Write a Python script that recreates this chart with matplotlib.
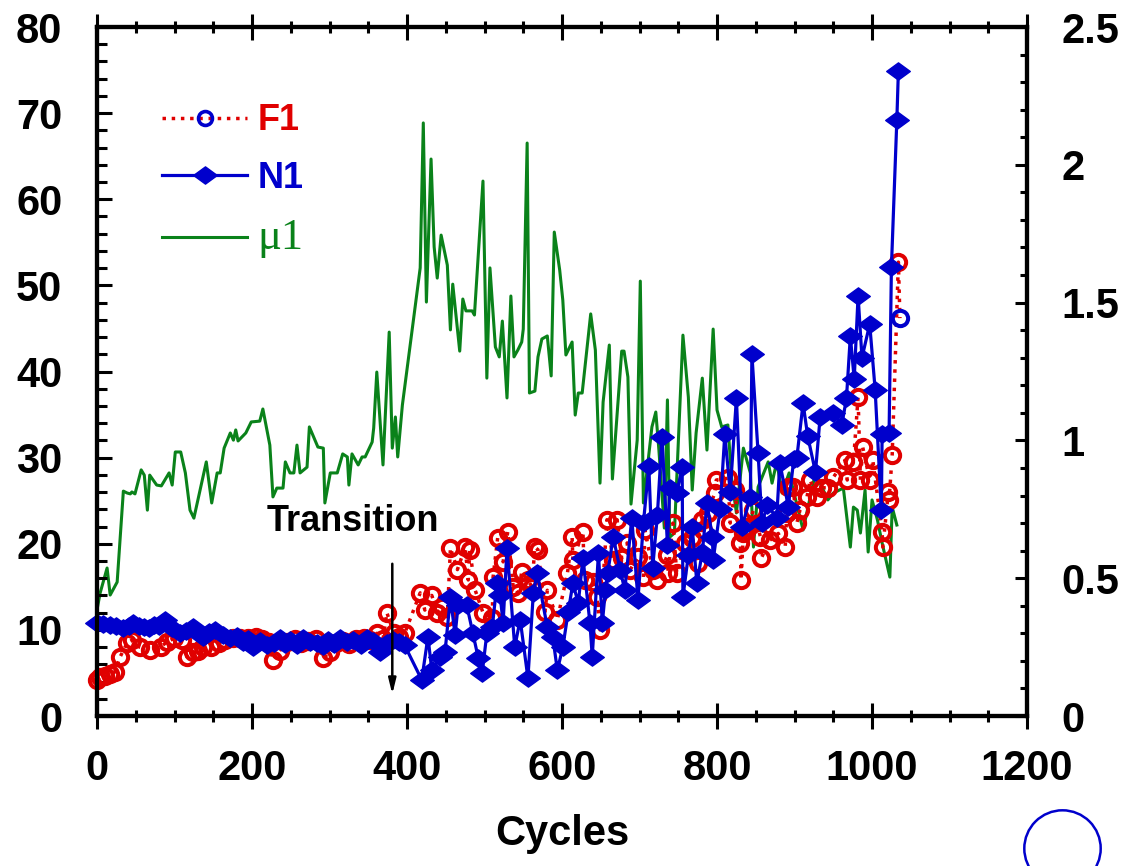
import matplotlib.pyplot as plt
from matplotlib.lines import Line2D
from matplotlib.path import Path
from matplotlib.ticker import MultipleLocator
import numpy as np

# --- data ---
f1_cycles = [0, 4, 10, 17, 23, 30, 39, 45, 55, 68,
             82, 90, 99, 110, 116, 124, 130, 137, 147, 157,
             165, 175, 185, 195, 205, 213, 222, 227, 236, 245,
             255, 263, 272, 283, 292, 300, 308, 317, 325, 334,
             344, 352, 361, 369, 374, 383, 390,
             397, 417, 423, 432, 439, 445, 452, 456, 465, 475,
             479, 481, 488, 498, 510, 511, 517, 524, 530, 537,
             543, 548, 556, 561, 565, 569, 578, 581, 594, 607,
             613, 614, 627, 629, 640, 645, 649, 658, 666, 671,
             677, 684, 688, 698, 705, 707, 717, 723, 736, 737,
             743, 748, 759, 768, 776, 781, 782, 788, 797, 799,
             814, 817, 823, 830, 831, 834, 839, 847, 856, 857,
             868, 879, 888, 890, 892, 898, 903, 907, 916, 920,
             929, 936, 943, 950, 965, 968, 976, 982, 985, 988,
             997, 1001, 1013, 1014, 1021, 1022, 1026, 1034, 1036]
f1_vals = [4.2, 4.5, 4.6, 4.9, 5.1, 6.9, 8.5, 8.8, 8.0, 7.7,
           8.0, 8.6, 9.0, 8.8, 6.9, 7.4, 7.5, 8.0, 8.0, 8.5,
           8.8, 9.0, 9.1, 9.0, 9.2, 8.9, 8.6, 6.5, 7.6, 8.6,
           8.9, 8.5, 8.7, 8.9, 6.7, 7.4, 8.5, 8.7, 8.4, 8.9,
           9.0, 8.8, 9.6, 8.9, 12.0, 9.6, 9.2,
           9.6, 14.3, 12.3, 14.0, 12.0, 12.7, 11.5, 19.5, 17.0, 19.6,
           15.8, 19.3, 14.6, 12.0, 11.4, 16.1, 20.7, 17.9, 21.4, 15.0,
           14.3, 16.7, 15.8, 15.0, 19.6, 19.3, 12.1, 14.6, 11.2, 16.6,
           20.8, 18.1, 21.4, 15.8, 15.6, 13.8, 10.0, 22.8, 18.1, 22.8,
           18.3, 20.1, 17.0, 18.5, 16.1, 21.6, 17.0, 15.8, 18.7, 16.6,
           22.4, 16.6, 20.1, 20.7, 17.8, 22.8, 21.6, 23.6, 25.9, 27.4,
           27.6, 22.4, 26.2, 20.1, 15.8, 21.2, 21.9, 23.9, 20.8, 18.3,
           20.4, 21.2, 19.6, 23.6, 26.6, 26.6, 22.4, 23.9, 25.4, 27.4,
           25.4, 26.5, 26.5, 27.7, 29.7, 27.4, 29.5, 37.0, 27.4, 31.2,
           27.4, 29.7, 21.4, 19.6, 26.0, 25.1, 30.3, 52.7, 46.2]

n1_cycles = [0, 8, 17, 25, 34, 41, 47, 54, 60, 67,
             73, 80, 88, 97, 107, 115, 124, 130, 137, 145,
             152, 162, 172, 180, 188, 195, 201, 210, 219, 228,
             236, 243, 249, 258, 266, 275, 284, 291, 298, 306,
             314, 322, 330, 340, 348, 356, 365, 374, 382, 390,
             397, 419, 427, 432, 443, 449, 456, 462, 466, 477,
             485, 492, 497, 503, 510, 516, 520, 524, 529, 539,
             546, 556, 563, 568, 581, 588, 594, 601, 608, 614,
             621, 627, 636, 639, 647, 652, 656, 659, 666, 675,
             681, 690, 698, 705, 712, 717, 723, 729, 736, 739,
             748, 755, 756, 763, 768, 774, 781, 787, 794, 795,
             804, 810, 817, 825, 832, 843, 845, 853, 858, 865,
             877, 881, 892, 899, 903, 911, 917, 927, 933, 950,
             961, 967, 972, 977, 982, 987, 997, 1004, 1012, 1013,
             1022, 1025, 1032, 1034]
n1_vals = [10.8, 10.7, 10.6, 10.4, 10.2, 10.5, 10.8, 10.4, 10.3, 10.2,
           10.6, 10.4, 11.1, 10.2, 9.6, 9.9, 10.3, 9.7, 9.2, 9.8,
           10.0, 9.4, 9.0, 9.3, 8.6, 8.9, 8.0, 8.7, 8.2, 8.5,
           9.0, 8.4, 8.8, 8.3, 9.0, 8.6, 8.5, 8.1, 8.8, 8.4,
           9.0, 8.6, 8.8, 8.3, 9.0, 8.7, 7.4, 8.5, 8.8, 8.6,
           8.2, 4.2, 9.2, 5.3, 6.9, 7.4, 13.8, 9.4, 12.9, 12.9,
           9.6, 6.7, 5.0, 9.6, 10.3, 15.4, 14.1, 10.8, 19.5, 8.0,
           11.2, 4.4, 14.3, 16.6, 10.3, 9.2, 5.3, 8.0, 12.1, 15.4,
           13.1, 18.4, 10.8, 6.9, 18.9, 10.8, 14.6, 16.6, 20.8, 17.0,
           14.6, 23.0, 13.5, 22.4, 29.0, 17.2, 23.3, 32.4, 19.9, 26.5,
           25.9, 28.9, 13.8, 18.7, 21.9, 15.4, 19.0, 24.7, 20.8, 18.1,
           24.0, 32.7, 26.0, 36.9, 21.9, 25.4, 42.0, 30.5, 22.4, 24.5,
           23.0, 29.4, 24.3, 29.8, 30.0, 36.3, 32.5, 28.3, 34.7, 35.2,
           33.8, 36.9, 44.1, 39.1, 48.8, 41.6, 45.5, 37.9, 23.9, 32.7,
           32.9, 52.1, 69.2, 74.9]

mu_cycles = [0, 4, 13, 17, 26, 34, 39, 43, 45, 49,
             57, 61, 65, 68, 77, 83, 93, 97, 101, 108,
             114, 120, 125, 133, 141, 148, 155, 159, 164, 172,
             176, 179, 182, 192, 199, 210, 214, 223, 227, 232,
             240, 243, 249, 254, 258, 262, 271, 274, 285, 292,
             294, 301, 310, 317, 323, 325, 329, 337, 342, 346,
             355, 357, 361, 369, 377, 381, 385, 388, 394, 417,
             421, 425, 431, 435, 439, 444, 452, 456, 459, 468,
             472, 476, 484, 487, 498, 503, 507, 514, 519, 523,
             529, 534, 538, 543, 548, 550, 555, 558, 565, 569,
             574, 581, 586, 590, 597, 601, 605, 613, 617, 621,
             626, 637, 643, 649, 653, 661, 665, 677, 680, 685,
             689, 697, 701, 705, 716, 721, 725, 732, 736, 739,
             745, 756, 763, 768, 773, 781, 787, 795, 800, 806,
             814, 819, 825, 834, 843, 847, 853, 866, 871, 877,
             884, 893, 911, 927, 943, 950, 963, 972, 976, 981,
             985, 991, 995, 1000, 1007, 1013, 1023, 1026, 1032]
mu_vals = [0.385, 0.446, 0.537, 0.439, 0.486, 0.816, 0.809, 0.806, 0.813, 0.806,
           0.893, 0.874, 0.747, 0.874, 0.838, 0.835, 0.882, 0.838, 0.958, 0.958,
           0.882, 0.747, 0.718, 0.820, 0.922, 0.773, 0.882, 0.882, 0.972, 1.027,
           1.001, 1.038, 0.998, 1.027, 1.067, 1.070, 1.114, 0.983, 0.795, 0.827,
           0.827, 0.922, 0.882, 0.882, 0.983, 0.882, 0.903, 1.049, 0.976, 0.972,
           0.773, 0.882, 0.882, 0.951, 0.940, 0.838, 0.951, 0.911, 0.940, 0.940,
           0.994, 1.045, 1.248, 0.911, 1.393, 0.972, 1.085, 0.940, 1.128, 1.626,
           2.152, 1.502, 2.021, 1.702, 1.589, 1.745, 1.636, 1.401, 1.567, 1.324,
           1.513, 1.470, 1.470, 1.455, 1.941, 1.226, 1.626, 1.339, 1.303, 1.433,
           1.154, 1.524, 1.303, 1.328, 1.357, 1.404, 2.079, 1.172, 1.179, 1.303,
           1.368, 1.379, 1.234, 1.756, 1.618, 1.509, 1.310, 1.357, 1.092, 1.172,
           1.172, 1.459, 1.328, 0.845, 1.139, 1.346, 0.860, 1.324, 1.324, 1.230,
           0.769, 1.001, 1.578, 0.773, 1.049, 1.103, 0.965, 0.682, 1.147, 0.649,
           0.664, 1.382, 1.157, 0.820, 1.027, 1.226, 0.965, 1.404, 1.110, 1.049,
           1.056, 0.856, 0.737, 0.972, 0.882, 0.613, 0.831, 0.922, 0.845, 0.922,
           0.809, 0.882, 0.675, 0.882, 0.784, 0.809, 0.827, 0.613, 0.758, 0.747,
           0.664, 0.820, 0.595, 0.784, 0.711, 0.628, 0.504, 0.758, 0.693]

RED = '#e00000'
BLUE = '#0000cc'
GREEN = '#0a821a'

plt.rcParams['font.family'] = 'Liberation Sans'
plt.rcParams['font.weight'] = 'bold'

fig = plt.figure(figsize=(11.28, 8.66), dpi=100)
ax = fig.add_axes([0.086, 0.1732, 0.8245, 0.7956])
ax2 = ax.twinx()
ax.set_zorder(ax2.get_zorder() + 1)
ax.patch.set_visible(False)

# wide diamond like the original marker
diamond = Path([(-1.3, 0), (0, 0.95), (1.3, 0), (0, -0.95), (-1.3, 0)], closed=True)

ax2.plot(mu_cycles, mu_vals, color=GREEN, lw=2.2, clip_on=False)

ax.plot(f1_cycles, f1_vals, ls=':', color=RED, lw=2.5, marker='o', ms=11,
        mfc='none', mec=RED, mew=2.9, markevery=list(range(len(f1_cycles) - 1)),
        clip_on=False)
ax.plot(f1_cycles[-1:], f1_vals[-1:], ls='none', marker='o', ms=11,
        mfc='none', mec=BLUE, mew=2.9, clip_on=False)
ax.plot(n1_cycles, n1_vals, '-', color=BLUE, lw=2.3, marker=diamond, ms=17,
        mfc=BLUE, mec=BLUE, clip_on=False)

ax.set_xlim(0, 1200)
ax.set_ylim(0, 80)
ax2.set_ylim(0, 2.5)

ax.xaxis.set_major_locator(MultipleLocator(200))
ax.xaxis.set_minor_locator(MultipleLocator(50))
ax.yaxis.set_major_locator(MultipleLocator(10))
ax.yaxis.set_minor_locator(MultipleLocator(2))
ax2.yaxis.set_minor_locator(MultipleLocator(0.1))
ax2.set_yticks([0, 0.5, 1, 1.5, 2, 2.5])
ax2.set_yticklabels(['0', '0.5', '1', '1.5', '2', '2.5'])

ax.tick_params(axis='x', which='major', direction='inout', length=19, width=2.2,
               top=True, labelsize=30, pad=14)
ax.tick_params(axis='x', which='minor', direction='inout', length=9, width=2.2, top=True)
ax.tick_params(axis='y', which='major', direction='in', length=11, width=2.2,
               labelsize=30, pad=25)
ax.tick_params(axis='y', which='minor', direction='in', length=7, width=2.2)
ax2.tick_params(axis='y', which='major', direction='in', length=9, width=2.2,
                labelsize=30, pad=25)
ax2.tick_params(axis='y', which='minor', direction='in', length=5, width=2.2)

for a in (ax, ax2):
    for s in a.spines.values():
        s.set_linewidth(3)

ax.set_xlabel('Cycles', fontsize=30, fontweight='bold', labelpad=18)

ax.text(330, 22.6, 'Transition', ha='center', va='center', fontsize=26)
ax.annotate('', xy=(381, 2.2), xytext=(381, 18),
            arrowprops=dict(arrowstyle='-|>,head_length=0.9,head_width=0.22',
                            color='black', lw=1.8))

h_f1 = Line2D([], [], ls=':', color=RED, lw=2.5, marker='o', ms=10,
              mfc='none', mec=BLUE, mew=2.6)
h_n1 = Line2D([], [], color=BLUE, lw=2.3, marker=diamond, ms=17)
h_mu = Line2D([], [], color=GREEN, lw=2.2)
leg = ax.legend([h_f1, h_n1, h_mu], ['F1', 'N1', '\u03bc1'], loc='upper left',
                bbox_to_anchor=(0.07, 0.889), frameon=False, fontsize=26,
                handlelength=2.35, handletextpad=0.3, labelspacing=0.62,
                borderpad=0, borderaxespad=0)
txt = leg.get_texts()
txt[0].set_color(RED)
txt[1].set_color(BLUE)
txt[2].set_color(GREEN)
txt[2].set_fontfamily('Liberation Serif')
txt[2].set_fontweight('normal')
txt[2].set_fontsize(32)

# stray open marker in the lower right corner of the original
fig.add_artist(Line2D([1062 / 1128], [1 - 848 / 866], transform=fig.transFigure,
                      marker='o', ms=55, mfc='none', mec=BLUE, mew=1.8))

fig.savefig('out.png', dpi=100)
